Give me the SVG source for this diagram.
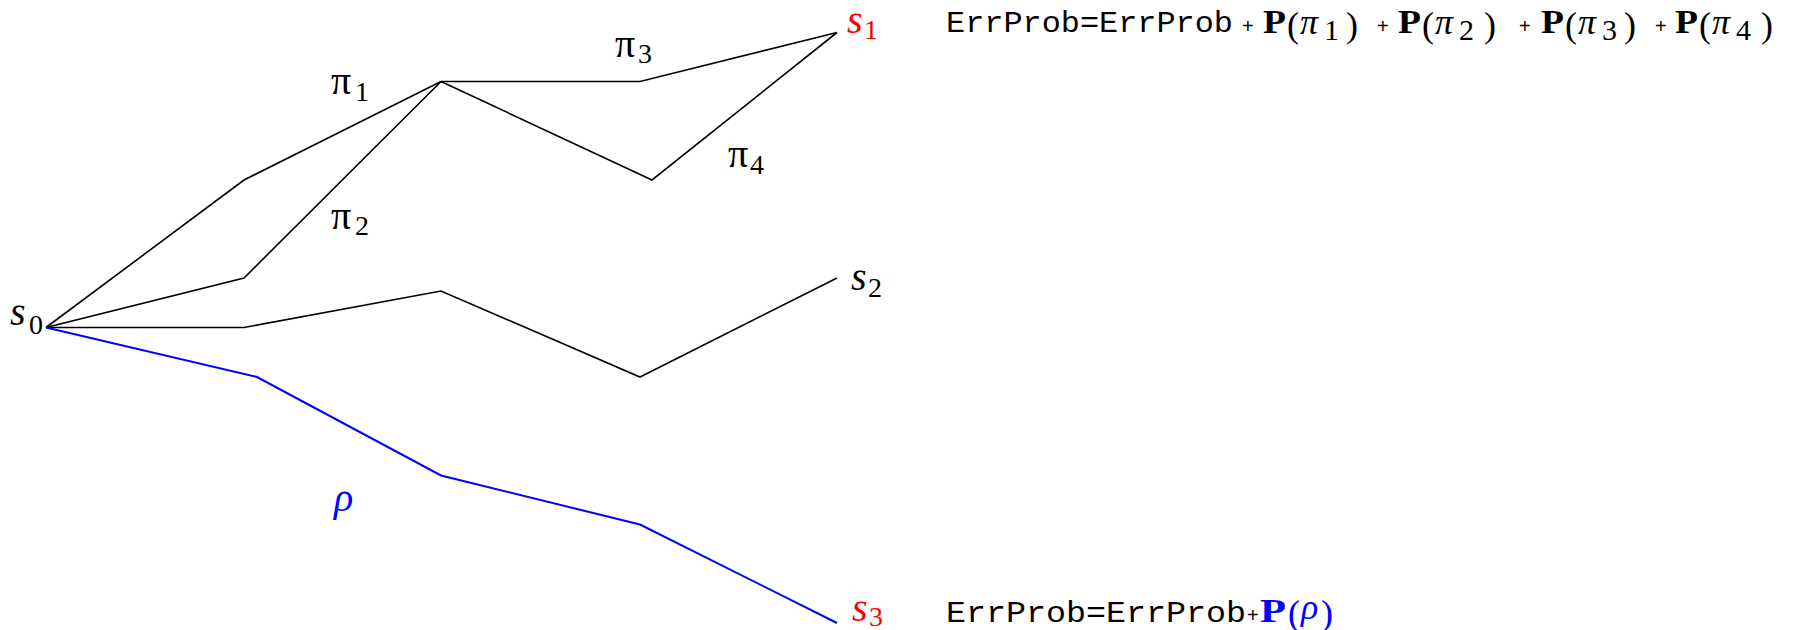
<svg xmlns="http://www.w3.org/2000/svg" width="1802" height="630" viewBox="0 0 1802 630">
<style>
.bg{fill:#ffffff}
.edge{fill:none;stroke:#000000;stroke-width:1.6;stroke-linejoin:miter}
.edge.blue{stroke:#0000ff;stroke-width:2}
.m{font-family:"Liberation Serif","DejaVu Serif",serif;font-style:italic;font-size:40px}
.sub{font-family:"Liberation Serif","DejaVu Serif",serif;font-size:28px;font-style:normal}
.pi{font-family:"Liberation Serif","DejaVu Serif",serif;font-size:40px}
.mono{font-family:"Liberation Mono","Courier New",monospace;font-size:30px}
.plus{font-family:"Liberation Sans",Arial,sans-serif;font-size:20px}
.bp{font-family:"Liberation Serif","DejaVu Serif",serif;font-weight:bold;font-size:34px}
.par{font-family:"Liberation Serif","DejaVu Serif",serif;font-size:36px}
.fpi{font-family:"Liberation Serif","DejaVu Serif",serif;font-style:italic;font-size:36px}
.fsub{font-family:"Liberation Serif","DejaVu Serif",serif;font-size:30px}
.red{fill:#ff0000}
.blk{fill:#000000}
.blu{fill:#0000ff}
</style>
<rect class="bg" x="0" y="0" width="1802" height="630"/>
<g id="connectors">
<polyline id="e-pi1" class="edge" points="46,327.5 244,180 441,81.5"/>
<polyline id="e-pi2" class="edge" points="46,327.5 244,278 441,81.5"/>
<polyline id="e-pi3" class="edge" points="441,81.5 640,81.5 837,32.5"/>
<polyline id="e-pi4" class="edge" points="441,81.5 652,180 837,32.5"/>
<polyline id="e-s2" class="edge" points="46,327.5 244,327.5 441,291 640,377 837,278"/>
<polyline id="e-rho" class="edge blue" points="46,327.5 257,377 441,475.5 640,524.5 837,623"/>
</g>
<g id="node-s0"><text class="blk" x="10" y="325"><tspan class="m">s</tspan><tspan class="sub" x="29" y="334">0</tspan></text></g>
<g id="node-s1"><text class="red" x="847" y="33"><tspan class="m">s</tspan><tspan class="sub" x="864" y="39">1</tspan></text></g>
<g id="node-s2"><text class="blk" x="851" y="290"><tspan class="m">s</tspan><tspan class="sub" x="868" y="297">2</tspan></text></g>
<g id="node-s3"><text class="red" x="852" y="621"><tspan class="m">s</tspan><tspan class="sub" x="869" y="626">3</tspan></text></g>
<g id="labels">
<text class="blk" x="331" y="94"><tspan class="pi">π</tspan><tspan class="sub" x="355" y="101">1</tspan></text>
<text class="blk" x="331" y="229"><tspan class="pi">π</tspan><tspan class="sub" x="355" y="235">2</tspan></text>
<text class="blk" x="615" y="57"><tspan class="pi">π</tspan><tspan class="sub" x="638" y="63">3</tspan></text>
<text class="blk" x="728" y="167"><tspan class="pi">π</tspan><tspan class="sub" x="750" y="174">4</tspan></text>
<text class="blu m" x="334" y="511">ρ</text>
</g>
<g id="formula-top">
<text class="mono blk" x="946" y="32" textLength="287" lengthAdjust="spacingAndGlyphs">ErrProb=ErrProb</text>
<text class="plus blk" x="1242" y="33">+</text>
<text class="bp blk" x="1263" y="33" textLength="23" lengthAdjust="spacingAndGlyphs">P</text>
<text class="par blk" x="1287" y="37">(</text>
<text class="fpi blk" x="1300" y="34">π</text>
<text class="fsub blk" x="1324" y="40">1</text>
<text class="par blk" x="1346" y="37">)</text>
<text class="plus blk" x="1377" y="33">+</text>
<text class="bp blk" x="1398" y="33" textLength="23" lengthAdjust="spacingAndGlyphs">P</text>
<text class="par blk" x="1422" y="37">(</text>
<text class="fpi blk" x="1435" y="34">π</text>
<text class="fsub blk" x="1459" y="40">2</text>
<text class="par blk" x="1484" y="37">)</text>
<text class="plus blk" x="1519" y="33">+</text>
<text class="bp blk" x="1541" y="33" textLength="23" lengthAdjust="spacingAndGlyphs">P</text>
<text class="par blk" x="1565" y="37">(</text>
<text class="fpi blk" x="1578" y="34">π</text>
<text class="fsub blk" x="1602" y="40">3</text>
<text class="par blk" x="1624" y="37">)</text>
<text class="plus blk" x="1655" y="33">+</text>
<text class="bp blk" x="1675" y="33" textLength="23" lengthAdjust="spacingAndGlyphs">P</text>
<text class="par blk" x="1699" y="37">(</text>
<text class="fpi blk" x="1712" y="34">π</text>
<text class="fsub blk" x="1736" y="40">4</text>
<text class="par blk" x="1761" y="37">)</text>
</g>
<g id="formula-bottom">
<text class="mono blk" x="946" y="622" textLength="300" lengthAdjust="spacingAndGlyphs">ErrProb=ErrProb</text>
<text class="plus blk" x="1247" y="622" font-size="22">+</text>
<text class="bp blu" x="1260" y="622" font-size="36" textLength="26" lengthAdjust="spacingAndGlyphs">P</text>
<text class="par blu" x="1288" y="625" font-size="36">(</text>
<text class="fpi blu" x="1301" y="619" font-size="36">ρ</text>
<text class="par blu" x="1321" y="625" font-size="36">)</text>
</g>
</svg>
